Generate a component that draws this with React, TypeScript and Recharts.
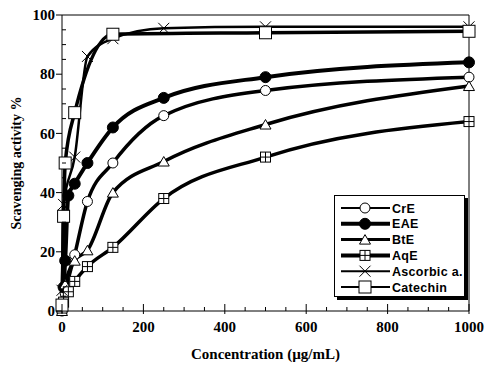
import React from 'react';
import { LineChart, Line, XAxis, YAxis, ReferenceLine, Label } from 'recharts';

// concentrations (µg/mL) and scavenging activity (%) per extract
const crEConc = [0, 7.8, 31.25, 62.5, 125, 250, 500, 1000];
const crEValues = [0, 6, 19, 37, 50, 66, 74.5, 79];

const eaeConc = [3.9, 7.8, 15.6, 31.25, 62.5, 125, 250, 500, 1000];
const eaeValues = [8, 17, 39, 43, 50, 62, 72, 79, 84];

const bteConc = [0, 7.8, 31.25, 62.5, 125, 250, 500, 1000];
const bteValues = [0, 9, 17, 20.5, 40, 50.5, 63, 76];

const aqeConc = [0, 3.9, 15.6, 31.25, 62.5, 125, 250, 500, 1000];
const aqeValues = [1, 3, 6.5, 10, 15, 21.5, 38, 52, 64];

const ascConc = [0, 3.9, 31.25, 62.5, 125, 250, 500, 1000];
const ascValues = [7, 36, 52, 86, 92, 95.5, 96, 96];

const catConc = [0, 3.9, 7.8, 31.25, 125, 500, 1000];
const catValues = [2, 32, 50, 67, 93.5, 94, 94.5];

const xTicks = Array.from({ length: 21 }, (_, i) => i * 50);
const yTicks = Array.from({ length: 21 }, (_, i) => i * 5);

const toPoints = (xs: number[], ys: number[]) => xs.map((x, i) => ({ x, y: ys[i] }));

const SERIF = '"Liberation Serif", "Times New Roman", serif';
const SANS = '"Liberation Sans", Arial, sans-serif';

type Shape = 'circle' | 'dot' | 'triangle' | 'boxcross' | 'cross' | 'square';

const Marker = ({ shape, cx, cy }: { shape: Shape; cx: number; cy: number }) => {
  switch (shape) {
    case 'circle':
      return <circle cx={cx} cy={cy} r={5} fill="#fff" stroke="#000" strokeWidth={1} />;
    case 'dot':
      return <circle cx={cx} cy={cy} r={5.5} fill="#000" stroke="#000" />;
    case 'triangle':
      return (
        <polygon
          points={`${cx},${cy - 5} ${cx - 5.5},${cy + 4.5} ${cx + 5.5},${cy + 4.5}`}
          fill="#fff"
          stroke="#000"
          strokeWidth={1}
        />
      );
    case 'boxcross':
      return (
        <g stroke="#000" strokeWidth={1}>
          <rect x={cx - 5} y={cy - 5} width={10} height={10} fill="#fff" />
          <line x1={cx - 5} x2={cx + 5} y1={cy} y2={cy} />
          <line x1={cx} x2={cx} y1={cy - 5} y2={cy + 5} />
        </g>
      );
    case 'cross':
      return (
        <g stroke="#000" strokeWidth={1}>
          <line x1={cx - 5.5} x2={cx + 5.5} y1={cy - 5.5} y2={cy + 5.5} />
          <line x1={cx - 5.5} x2={cx + 5.5} y1={cy + 5.5} y2={cy - 5.5} />
        </g>
      );
    default:
      return <rect x={cx - 6} y={cy - 6} width={12} height={12} fill="#fff" stroke="#000" strokeWidth={1} />;
  }
};

const dotFor = (shape: Shape) => (props: any) => (
  <Marker key={`${shape}-${props.index}`} shape={shape} cx={props.cx} cy={props.cy} />
);

const XTick = (props: any) => {
  const { x, y, payload } = props;
  const v = payload.value;
  const major = v % 200 === 0;
  return (
    <g>
      <line x1={x} x2={x} y1={y} y2={major ? y - 7 : y - 4} stroke="#000" />
      {major && <line x1={x} x2={x} y1={y} y2={y + 3} stroke="#000" />}
      {major && (
        <text x={x} y={y + 21} textAnchor="middle" fontFamily={SERIF} fontWeight="bold" fontSize={15} fill="#000">
          {v}
        </text>
      )}
    </g>
  );
};

const YTick = (props: any) => {
  const { x, y, payload } = props;
  const v = payload.value;
  const major = v % 20 === 0;
  return (
    <g>
      {major ? (
        <line x1={x} x2={x - 6} y1={y} y2={y} stroke="#000" />
      ) : (
        <line x1={x} x2={x + 4} y1={y} y2={y} stroke="#000" />
      )}
      {major && (
        <text x={x - 7} y={y} dy="0.35em" textAnchor="end" fontFamily={SERIF} fontWeight="bold" fontSize={15} fill="#000">
          {v}
        </text>
      )}
    </g>
  );
};

const series = [
  { name: 'CrE', data: toPoints(crEConc, crEValues), shape: 'circle' as Shape, width: 3.5, legendWidth: 2 },
  { name: 'EAE', data: toPoints(eaeConc, eaeValues), shape: 'dot' as Shape, width: 4, legendWidth: 4 },
  { name: 'BtE', data: toPoints(bteConc, bteValues), shape: 'triangle' as Shape, width: 3.5, legendWidth: 3 },
  { name: 'AqE', data: toPoints(aqeConc, aqeValues), shape: 'boxcross' as Shape, width: 3.5, legendWidth: 4 },
  { name: 'Ascorbic a.', data: toPoints(ascConc, ascValues), shape: 'cross' as Shape, width: 2.5, legendWidth: 2 },
  { name: 'Catechin', data: toPoints(catConc, catValues), shape: 'square' as Shape, width: 3.5, legendWidth: 2 },
];

const LegendBox = () => (
  <div
    style={{
      position: 'absolute',
      left: 334,
      top: 195,
      width: 129,
      height: 100,
      border: '1px solid #000',
      background: '#fff',
      boxShadow: '3px 3px 0 #000',
    }}
  >
    <svg width={129} height={100} style={{ position: 'absolute', left: 0, top: 0 }}>
      {series.map((s, i) => {
        const cy = 12 + i * 15.8;
        return (
          <g key={s.name}>
            <line x1={6} x2={55} y1={cy} y2={cy} stroke="#000" strokeWidth={s.legendWidth} />
            <Marker shape={s.shape} cx={30} cy={cy} />
            <text
              x={57}
              y={cy}
              dy="0.36em"
              fontFamily={SANS}
              fontWeight="bold"
              fontSize={12.5}
              letterSpacing={0.3}
              fill="#000"
            >
              {s.name}
            </text>
          </g>
        );
      })}
    </svg>
  </div>
);

export default function App() {
  return (
    <div style={{ position: 'absolute', left: 0, top: 0, width: 491, height: 367, background: '#fff' }}>
      <LineChart width={491} height={367} margin={{ top: 15, right: 22, bottom: 0, left: 0 }}>
        <XAxis
          type="number"
          dataKey="x"
          domain={[0, 1000]}
          ticks={xTicks}
          interval={0}
          tickSize={0}
          tickMargin={0}
          tickLine={false}
          tick={<XTick />}
          height={56}
          axisLine={{ stroke: '#000' }}
          allowDuplicatedCategory={false}
        >
          <Label
            content={(p: any) => (
              <text
                x={p.viewBox.x + p.viewBox.width / 2}
                y={p.viewBox.y + 48}
                textAnchor="middle"
                fontFamily={SERIF}
                fontWeight="bold"
                fontSize={15}
                fill="#000"
              >
                Concentration (µg/mL)
              </text>
            )}
          />
        </XAxis>
        <YAxis
          type="number"
          domain={[0, 100]}
          ticks={yTicks}
          interval={0}
          tickSize={0}
          tickMargin={0}
          tickLine={false}
          tick={<YTick />}
          width={62}
          axisLine={{ stroke: '#000' }}
        >
          <Label
            content={(p: any) => {
              const cx = 16;
              const cy = p.viewBox.y + p.viewBox.height / 2;
              return (
                <text
                  x={cx}
                  y={cy}
                  transform={`rotate(-90 ${cx} ${cy})`}
                  textAnchor="middle"
                  dominantBaseline="central"
                  fontFamily={SERIF}
                  fontWeight="bold"
                  fontSize={14}
                  fill="#000"
                >
                  Scavenging activity %
                </text>
              );
            }}
          />
        </YAxis>
        <ReferenceLine x={1000} stroke="#000" />
        <ReferenceLine y={100} stroke="#000" />
        {series.map((s) => (
          <Line
            key={s.name}
            data={s.data}
            dataKey="y"
            name={s.name}
            type="monotone"
            stroke="#000"
            strokeWidth={s.width}
            dot={dotFor(s.shape)}
            activeDot={false}
            isAnimationActive={false}
          />
        ))}
      </LineChart>
      <LegendBox />
    </div>
  );
}
